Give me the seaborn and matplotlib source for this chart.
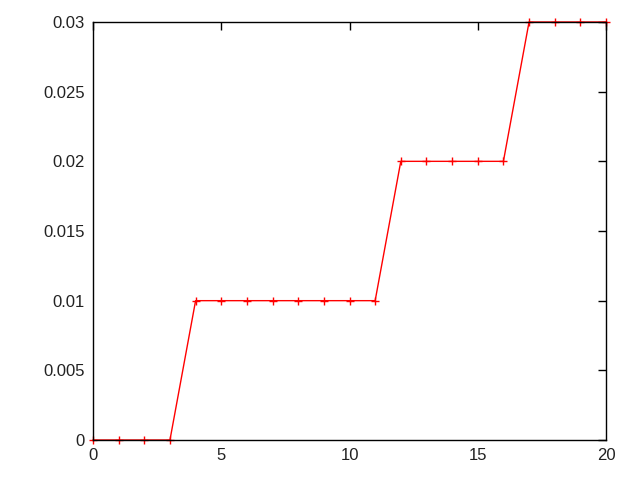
import pandas as pd
import matplotlib
matplotlib.use("Agg")
import matplotlib.pyplot as plt
import seaborn as sns

x_values = [0, 1, 2, 3, 4, 5, 6, 7, 8, 9, 10, 11, 12, 13, 14, 15, 16, 17, 18, 19, 20]
y_values = [0, 0, 0, 0, 0.01, 0.01, 0.01, 0.01, 0.01, 0.01, 0.01, 0.01,
            0.02, 0.02, 0.02, 0.02, 0.02, 0.03, 0.03, 0.03, 0.03]
x_ticks = [0, 5, 10, 15, 20]
y_ticks = [0, 0.005, 0.01, 0.015, 0.02, 0.025, 0.03]
y_labels = ["0", "0.005", "0.01", "0.015", "0.02", "0.025", "0.03"]

df = pd.DataFrame({"x": x_values, "y": y_values})

sns.set_style("white")
plt.rcParams["font.family"] = ["Liberation Sans", "DejaVu Sans"]

fig = plt.figure(figsize=(6.4, 4.8), dpi=100)
ax = fig.add_axes([93 / 640, 1 - 440 / 480, (606 - 93) / 640, (440 - 22) / 480])

sns.lineplot(data=df, x="x", y="y", ax=ax, color="red", linewidth=1,
             marker="+", markersize=6, markeredgewidth=1,
             markeredgecolor="red", clip_on=False, zorder=2)

ax.set_xlim(0, 20)
ax.set_ylim(0, 0.03)
ax.set_xticks(x_ticks)
ax.set_xticklabels([str(t) for t in x_ticks])
ax.set_yticks(y_ticks)
ax.set_yticklabels(y_labels)
ax.set_xlabel("")
ax.set_ylabel("")
ax.tick_params(direction="in", length=6, width=1, color="black",
               top=True, right=True, labelsize=12, labelcolor="#222222", pad=6)
for s in ax.spines.values():
    s.set_color("black")
    s.set_linewidth(1)
    s.set_zorder(3)

fig.savefig("out.png", dpi=100)
